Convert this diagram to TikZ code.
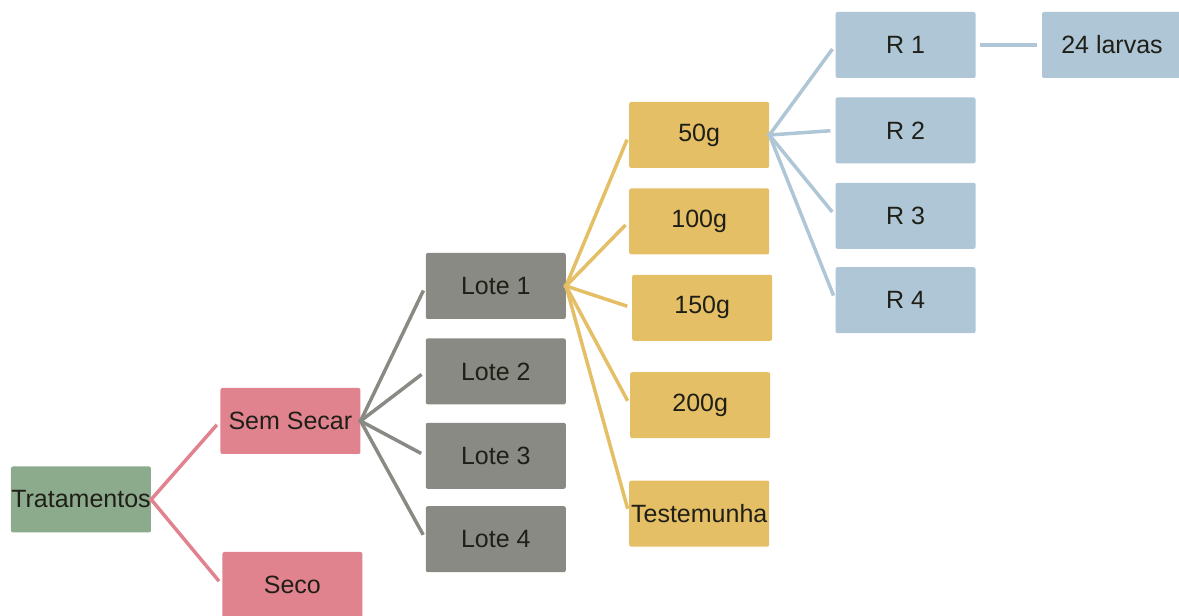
\documentclass[tikz,border=0pt]{standalone}
\usepackage{fontspec}
\setmainfont{Liberation Sans}
\usetikzlibrary{positioning}

\definecolor{verde}{HTML}{8CAB8C}
\definecolor{rosa}{HTML}{E1828F}
\definecolor{cinza}{HTML}{8A8A84}
\definecolor{amarelo}{HTML}{E5BF66}
\definecolor{azul}{HTML}{AEC6D6}
\definecolor{texto}{HTML}{1F1F17}

\tikzset{
  caixa/.style={rectangle, rounded corners=2pt, minimum width=140pt, minimum height=66pt,
    inner sep=0pt, text=texto, font=\fontsize{25}{30}\selectfont},
  raiz/.style={caixa, fill=verde},
  nivel/.style={caixa, fill=rosa},
  lote/.style={caixa, fill=cinza},
  dose/.style={caixa, fill=amarelo},
  rep/.style={caixa, fill=azul},
  ramo/.style={line width=3.5pt, shorten >=5pt, shorten <=-2pt},
}

\begin{document}
\begin{tikzpicture}
  \useasboundingbox (-81pt,-116.5pt) rectangle (1098pt,499.5pt);
  \node[raiz] (trat) {Tratamentos};
  \node[nivel, right=69pt of trat, yshift=78.5pt] (semsecar) {Sem Secar};
  \node[nivel, right=71pt of trat, yshift=-85.5pt] (seco) {Seco};
  \node[lote, right=65pt of semsecar, yshift=135pt] (lote1) {Lote 1};
  \node[lote, below=19pt of lote1] (lote2) {Lote 2};
  \node[lote, below=18pt of lote2] (lote3) {Lote 3};
  \node[lote, below=17pt of lote3] (lote4) {Lote 4};
  \node[dose, right=63pt of lote1, yshift=151pt] (d50) {50g};
  \node[dose, below=20pt of d50] (d100) {100g};
  \node[dose, below=20pt of d100, xshift=3pt] (d150) {150g};
  \node[dose, below=31pt of d150, xshift=-2pt] (d200) {200g};
  \node[dose, below=42pt of d200, xshift=-1pt] (test) {Testemunha};
  \node[rep, right=66pt of d50, yshift=90pt] (r1) {R 1};
  \node[rep, below=19pt of r1] (r2) {R 2};
  \node[rep, below=19pt of r2] (r3) {R 3};
  \node[rep, below=18pt of r3] (r4) {R 4};
  \node[rep, right=66pt of r1] (larvas) {24 larvas};

  \draw[ramo, rosa] (trat.east) -- (semsecar.west);
  \draw[ramo, rosa] (trat.east) -- (seco.west);
  \draw[ramo, cinza] (semsecar.east) -- (lote1.west);
  \draw[ramo, cinza] (semsecar.east) -- (lote2.west);
  \draw[ramo, cinza] (semsecar.east) -- (lote3.west);
  \draw[ramo, cinza] (semsecar.east) -- (lote4.west);
  \draw[ramo, amarelo] (lote1.east) -- (d50.west);
  \draw[ramo, amarelo] (lote1.east) -- (d100.west);
  \draw[ramo, amarelo] (lote1.east) -- (d150.west);
  \draw[ramo, amarelo] (lote1.east) -- (d200.west);
  \draw[ramo, amarelo] (lote1.east) -- (test.west);
  \draw[ramo, azul] (d50.east) -- (r1.west);
  \draw[ramo, azul] (d50.east) -- (r2.west);
  \draw[ramo, azul] (d50.east) -- (r3.west);
  \draw[ramo, azul] (d50.east) -- (r4.west);
  \draw[ramo, azul, shorten <=4pt] (r1.east) -- (larvas.west);
\end{tikzpicture}
\end{document}
